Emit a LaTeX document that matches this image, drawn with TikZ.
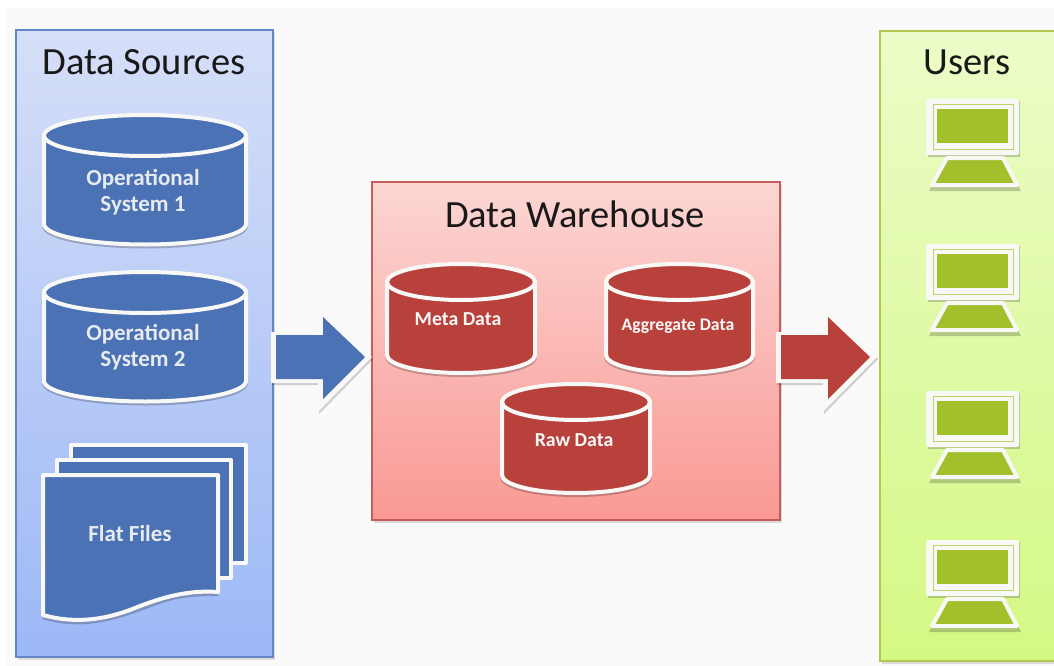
\documentclass[tikz,border=0pt]{standalone}
\usepackage{fontspec}
\setmainfont{Carlito}
\definecolor{dsblue}{HTML}{4A72B4}
\definecolor{dsred}{HTML}{B8413C}
\definecolor{dsgreen}{HTML}{A2C02C}
\definecolor{halo}{HTML}{F8F8F6}
\tikzset{
  panel/.style={draw=#1,line width=1.3pt},
  title/.style={font=\fontsize{38.5}{40}\selectfont,text=black!90,inner sep=0pt},
  blabel/.style={font=\fontsize{23}{26}\selectfont\bfseries,text=#1,align=center,inner sep=0pt},
  outline/.style={draw=halo,line width=4pt,line join=round},
  softshadow/.style={draw=black,opacity=.22,line width=4pt,line join=round}
}
% x-left, x-right, top-ellipse centre y, bottom-ellipse centre y, radius y, colour
\newcommand{\dwcyl}[6]{%
  \pgfmathsetmacro{\crx}{(#2-#1)/2}%
  \path[softshadow] (#1,#4+2) arc[start angle=180,end angle=0,x radius=\crx,y radius=#5];
  \path[outline,fill=#6] (#1,#3) arc[start angle=180,end angle=360,x radius=\crx,y radius=#5]
     -- (#2,#4) arc[start angle=0,end angle=180,x radius=\crx,y radius=#5] -- cycle;
  \path[outline] (#1,#3) arc[start angle=180,end angle=0,x radius=\crx,y radius=#5];
}
\newcommand{\dwlaptop}[1]{%
  \begin{scope}[yshift=-#1]
    \fill[black,opacity=.2] (928,101) rectangle (1020,157);
    \fill[black,opacity=.2] (946,157) -- (1004,157) -- (1021,191) -- (929,191) -- cycle;
    \fill[halo,rounded corners=2pt] (926,99) rectangle (1019,155);
    \draw[dsgreen!70!white,line width=.8pt] (933,104) rectangle (1013,149);
    \fill[dsgreen] (937,109) rectangle (1008,143);
    \path[draw=halo,line width=4pt,line join=round,fill=dsgreen] (947,158) -- (1003,158) -- (1017,185) -- (932,185) -- cycle;
  \end{scope}
}
% block arrow: x shift, colour
\newcommand{\dwarrow}[2]{%
  \begin{scope}[xshift=#1]
    \fill[black,opacity=.18] (272,334) -- (319,334) -- (319,309) -- (373,359) -- (319,414) -- (319,385) -- (272,385) -- cycle;
    \fill[halo] (271,332) -- (318,332) -- (318,307) -- (372,357) -- (318,412) -- (318,383) -- (271,383) -- cycle;
    \fill[#2] (276,335) -- (323,335) -- (323,317) -- (365,357) -- (323,399) -- (323,379) -- (276,379) -- cycle;
  \end{scope}
}
\begin{document}
\begin{tikzpicture}[x=1pt,y=-1pt]
\useasboundingbox (0,0) rectangle (1054,666);
\fill[white] (0,0) rectangle (1054,666);
\fill[black!2] (6,8) rectangle (1054,666);
% panels
\fill[black,opacity=.12] (18,33) rectangle (275,660);
\path[panel={dsblue!85!white},top color={rgb,255:red,214;green,223;blue,248},bottom color={rgb,255:red,156;green,184;blue,246}] (16,30) rectangle (273,657);
\fill[black,opacity=.12] (374,184) rectangle (782,523);
\path[panel={dsred!85!white},top color={rgb,255:red,251;green,214;blue,211},bottom color={rgb,255:red,250;green,153;blue,149}] (372,182) rectangle (780,520);
\fill[black,opacity=.12] (882,33) rectangle (1054,664);
\path[panel={dsgreen!85!white},top color={rgb,255:red,236;green,252;blue,200},bottom color={rgb,255:red,212;green,248;blue,132}] (880,31) rectangle (1060,661);
% titles
\node[title] (tsrc) at (144,62) {Data Sources};
\node[title] (twh) at (575,214) {Data Warehouse};
\node[title] (tusr) at (967,62) {Users};
% source cylinders
\dwcyl{44}{246}{135.5}{224}{20.5}{dsblue}
\dwcyl{44}{246}{292.5}{381}{20.5}{dsblue}
\node[blabel={halo!90!dsblue}] (os1) at (143,192) {Operational\\System 1};
\node[blabel={halo!90!dsblue}] (os2) at (143,347) {Operational\\System 2};
% flat files
\path[outline,fill=dsblue] (71,445) -- (246,445) -- (246,563) -- (71,563) -- cycle;
\path[outline,fill=dsblue] (57,460) -- (231,460) -- (231,578) -- (57,578) -- cycle;
\path[softshadow] (43,617) .. controls (90,632) and (130,612) .. (165,600) .. controls (185,594) and (205,594) .. (218,594);
\path[outline,fill=dsblue] (43,475) -- (218,475) -- (218,592) .. controls (190,590) and (165,596) .. (135,608) .. controls (105,620) and (75,624) .. (43,615) -- cycle;
\node[blabel={halo!90!dsblue}] (ff) at (130,534) {Flat Files};
% block arrows
\dwarrow{0}{dsblue}
\dwarrow{505}{dsred}
% warehouse cylinders
\dwcyl{387}{535}{282}{355}{18}{dsred}
\dwcyl{606}{753}{282}{355}{18}{dsred}
\dwcyl{502}{650}{402}{475}{18}{dsred}
\node[blabel=halo,font=\fontsize{19.8}{22}\selectfont\bfseries] (md) at (458,319) {Meta Data};
\node[blabel=halo,font=\fontsize{17.7}{20}\selectfont\bfseries] (ad) at (678,326) {Aggregate Data};
\node[blabel=halo,font=\fontsize{19.8}{22}\selectfont\bfseries] (rd) at (574,440) {Raw Data};
% laptops
\dwlaptop{0}
\dwlaptop{145}
\dwlaptop{292}
\dwlaptop{441}
\end{tikzpicture}
\end{document}
